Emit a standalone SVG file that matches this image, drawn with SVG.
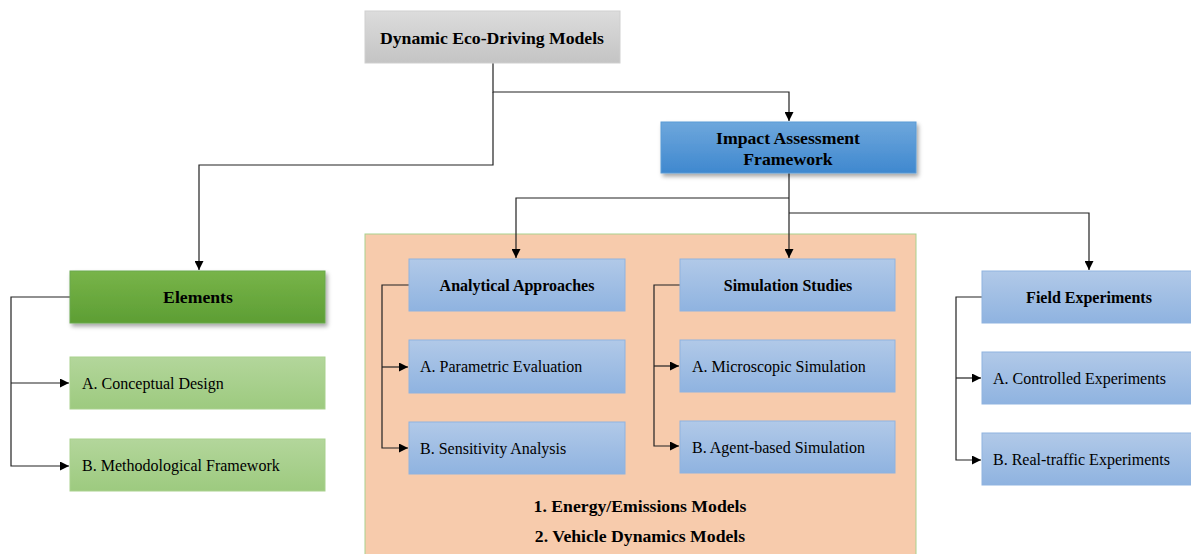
<svg xmlns="http://www.w3.org/2000/svg" width="1191" height="554" viewBox="0 0 1191 554">
<defs>
<linearGradient id="gGray" x1="0" y1="0" x2="0" y2="1"><stop offset="0" stop-color="#dcdcdc"/><stop offset="1" stop-color="#c4c4c4"/></linearGradient>
<linearGradient id="gBlueDark" x1="0" y1="0" x2="0" y2="1"><stop offset="0" stop-color="#6ea7dc"/><stop offset="1" stop-color="#3f88cf"/></linearGradient>
<linearGradient id="gGreenDark" x1="0" y1="0" x2="0" y2="1"><stop offset="0" stop-color="#78b449"/><stop offset="1" stop-color="#5d9e34"/></linearGradient>
<linearGradient id="gBlue" x1="0" y1="0" x2="0" y2="1"><stop offset="0" stop-color="#b1c9e8"/><stop offset="1" stop-color="#8fb3e0"/></linearGradient>
<linearGradient id="gGreen" x1="0" y1="0" x2="0" y2="1"><stop offset="0" stop-color="#b3d69b"/><stop offset="1" stop-color="#9dca7f"/></linearGradient>
<filter id="shadow" x="-10%" y="-10%" width="130%" height="140%"><feDropShadow dx="2" dy="3" stdDeviation="2" flood-color="#000" flood-opacity="0.35"/></filter>
<marker id="arr" viewBox="0 0 10 10" refX="10" refY="5" markerWidth="9" markerHeight="9" markerUnits="userSpaceOnUse" orient="auto"><path d="M0,0 L10,5 L0,10 z" fill="#000"/></marker>
</defs>
<style>
.t{font-family:"Liberation Serif","Times New Roman",serif;fill:#000}
.b{font-weight:bold;font-size:16px}
.bl{font-weight:bold;font-size:17.7px}
.r{font-size:16px}
.c{stroke:#222;stroke-width:1.2;fill:none}
.sub{stroke:#8fb3e0;stroke-width:1}
.subg{stroke:#a9d18e;stroke-width:1}
</style>
<rect x="365" y="234" width="551" height="330" fill="#f7cbac" stroke="#a9d18e" stroke-width="1"/>
<g id="connectors">
<path class="c" d="M493,62 V92 H789 V121" marker-end="url(#arr)"/>
<path class="c" d="M493,92 V165 H199 V270" marker-end="url(#arr)"/>
<path class="c" d="M789,173 V258" marker-end="url(#arr)"/>
<path class="c" d="M789,198 H516 V258" marker-end="url(#arr)"/>
<path class="c" d="M789,213 H1089 V270" marker-end="url(#arr)"/>
<path class="c" d="M70,297 H11 V466 H69" marker-end="url(#arr)"/>
<path class="c" d="M11,383 H69" marker-end="url(#arr)"/>
<path class="c" d="M409,285 H382 V448 H408" marker-end="url(#arr)"/>
<path class="c" d="M382,367 H408" marker-end="url(#arr)"/>
<path class="c" d="M680,285 H654 V446 H679" marker-end="url(#arr)"/>
<path class="c" d="M654,366 H679" marker-end="url(#arr)"/>
<path class="c" d="M982,297 H956 V460 H981" marker-end="url(#arr)"/>
<path class="c" d="M956,378 H981" marker-end="url(#arr)"/>
</g>
<g id="n-root"><rect x="365" y="11" width="255" height="52" fill="url(#gGray)" stroke="#cfcfcf"/><text class="t bl" x="492" y="44" text-anchor="middle">Dynamic Eco-Driving Models</text></g>
<g id="n-impact"><rect x="661" y="122" width="255" height="51" fill="url(#gBlueDark)" stroke="#5b9bd5" filter="url(#shadow)"/><text class="t bl" x="788" y="144" text-anchor="middle">Impact Assessment</text><text class="t bl" x="788" y="165" text-anchor="middle">Framework</text></g>
<g id="n-elements"><rect x="70" y="271" width="255" height="52" fill="url(#gGreenDark)" stroke="#6aa84f" filter="url(#shadow)"/><text class="t bl" x="198" y="303" text-anchor="middle">Elements</text></g>
<g id="n-conceptual"><rect x="70" y="357" width="255" height="52" fill="url(#gGreen)" class="subg"/><text class="t r" x="82" y="389">A. Conceptual Design</text></g>
<g id="n-method"><rect x="70" y="439" width="255" height="52" fill="url(#gGreen)" class="subg"/><text class="t r" x="82" y="471">B. Methodological Framework</text></g>
<g id="n-analytical"><rect x="409" y="259" width="216" height="52" fill="url(#gBlue)" class="sub"/><text class="t b" x="517" y="291" text-anchor="middle">Analytical Approaches</text></g>
<g id="n-parametric"><rect x="409" y="340" width="216" height="53" fill="url(#gBlue)" class="sub"/><text class="t r" x="420" y="372">A. Parametric Evaluation</text></g>
<g id="n-sensitivity"><rect x="409" y="422" width="216" height="52" fill="url(#gBlue)" class="sub"/><text class="t r" x="420" y="454">B. Sensitivity Analysis</text></g>
<g id="n-simulation"><rect x="680" y="259" width="215" height="52" fill="url(#gBlue)" class="sub"/><text class="t b" x="788" y="291" text-anchor="middle">Simulation Studies</text></g>
<g id="n-micro"><rect x="680" y="340" width="215" height="52" fill="url(#gBlue)" class="sub"/><text class="t r" x="692" y="372">A. Microscopic Simulation</text></g>
<g id="n-agent"><rect x="680" y="421" width="215" height="52" fill="url(#gBlue)" class="sub"/><text class="t r" x="692" y="453">B. Agent-based Simulation</text></g>
<g id="n-models"><text class="t bl" x="640" y="512" text-anchor="middle">1. Energy/Emissions Models</text><text class="t bl" x="640" y="542" text-anchor="middle">2. Vehicle Dynamics Models</text></g>
<g id="n-field"><rect x="982" y="271" width="215" height="52" fill="url(#gBlue)" class="sub"/><text class="t b" x="1089" y="303" text-anchor="middle">Field Experiments</text></g>
<g id="n-controlled"><rect x="982" y="352" width="215" height="52" fill="url(#gBlue)" class="sub"/><text class="t r" x="993" y="384">A. Controlled Experiments</text></g>
<g id="n-realtraffic"><rect x="982" y="433" width="215" height="52" fill="url(#gBlue)" class="sub"/><text class="t r" x="993" y="465">B. Real-traffic Experiments</text></g>
</svg>
